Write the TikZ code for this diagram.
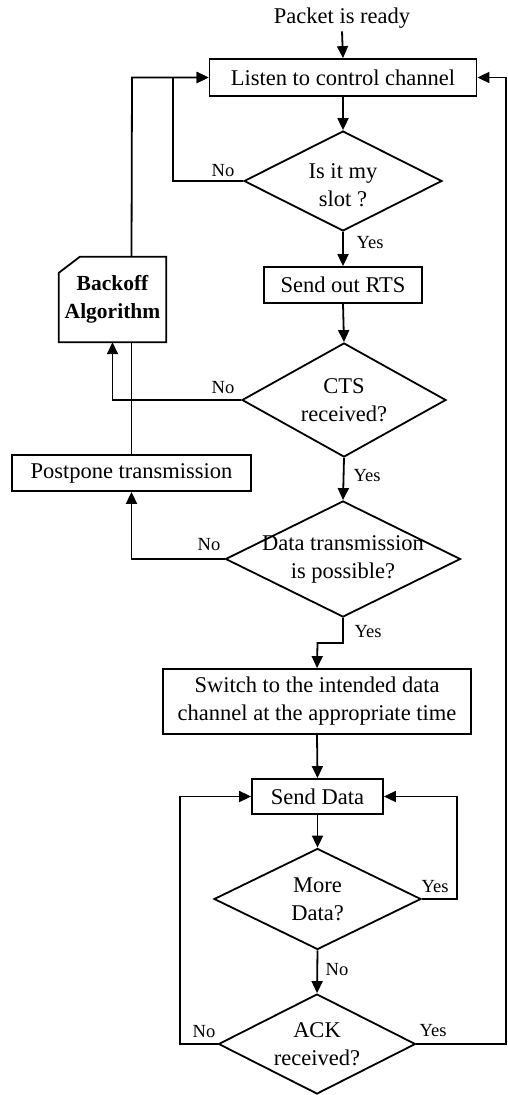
\documentclass[tikz,border=0pt]{standalone}
\usepackage{fontspec}
\setmainfont{Liberation Serif}
\usetikzlibrary{shapes.geometric,arrows.meta}
\begin{document}
\begin{tikzpicture}[x=1pt,y=-1pt,
  every node/.style={font=\fontsize{22.5pt}{28pt}\selectfont},
  box/.style={draw,line width=1.8pt,rectangle,inner sep=0pt,align=center},
  dia/.style={draw,line width=1.8pt,diamond,inner sep=0pt},
  txt/.style={align=center,inner sep=0pt},
  lbl/.style={font=\fontsize{18.5pt}{20pt}\selectfont,inner sep=0pt},
  conn/.style={line width=1.8pt},
  arr/.style={line width=1.8pt,-{Triangle[length=12pt,width=11pt]}}]
\useasboundingbox (0,0) rectangle (508,1095);
% nodes
\node[txt] (start) at (342,18) {Packet is ready};
\node[box,minimum width=267pt,minimum height=37pt] (listen) at (343,77.5) {Listen to control channel};
\node[dia,minimum width=198pt,minimum height=100pt] (d1) at (343,181) {};
\node[txt] (d1t) at (343,185) {Is it my\\slot ?};
\node[box,minimum width=158pt,minimum height=36pt] (rts) at (343,285) {Send out RTS};
\node[dia,minimum width=204pt,minimum height=114pt] (d2) at (344,400) {};
\node[txt] (d2t) at (344,400) {CTS\\received?};
\node[rectangle,inner sep=0pt,minimum width=107pt,minimum height=85pt,align=center,font=\fontsize{21.5pt}{28pt}\selectfont\bfseries] (backoff) at (112.5,299.5) {Backoff\\Algorithm};
\draw[line width=1.8pt,line join=miter] (backoff.south west) -- (backoff.south east) -- (backoff.north east) -- ([xshift=21pt]backoff.north west) -- ([yshift=-16pt]backoff.north west) -- cycle;
\node[box,minimum width=239pt,minimum height=36pt] (postpone) at (131.5,473) {Postpone transmission};
\node[dia,minimum width=235pt,minimum height=116pt] (d3) at (343,559) {};
\node[txt] (d3t) at (343,559) {Data transmission\\is possible?};
\node[box,minimum width=308pt,minimum height=65pt] (switch) at (317,701.5) {Switch to the intended data\\channel at the appropriate time};
\node[box,minimum width=131pt,minimum height=35pt] (send) at (317.5,796.5) {Send Data};
\node[dia,minimum width=207pt,minimum height=101pt] (d4) at (317.5,899) {};
\node[txt] (d4t) at (317.5,899) {More\\Data?};
\node[dia,minimum width=197pt,minimum height=100pt] (d5) at (317,1044) {};
\node[txt] (d5t) at (317,1044) {ACK\\received?};
% labels
\node[lbl] (l1) at (223,171) {No};
\node[lbl] (l2) at (370,243) {Yes};
\node[lbl] (l3) at (223,388) {No};
\node[lbl] (l4) at (367,476) {Yes};
\node[lbl] (l5) at (209,545) {No};
\node[lbl] (l6) at (368,632) {Yes};
\node[lbl] (l7) at (435,887) {Yes};
\node[lbl] (l8) at (337,970) {No};
\node[lbl] (l9) at (204,1032) {No};
\node[lbl] (l10) at (433,1031) {Yes};
% coordinates
\coordinate (c1) at (173,181);
\coordinate (c2) at (132,77.5);
\coordinate (c3) at (506,1044);
\coordinate (c4) at (180,1044);
\coordinate (c5) at (457,899);
\coordinate (c6) at (343,643);
\coordinate (c7) at (317.5,643);
% connectors
\draw[arr] ([yshift=-3pt]start.south) -- (listen.north);
\draw[arr] (listen.south) -- (d1.north);
\draw[arr] (d1.west) -- (c1) -- (c1 |- listen.west) -- (listen.west);
\draw[arr] (d1.south) -- (rts.north);
\draw[arr] (rts.south) -- (d2.north);
\draw[arr] (d2.west) -- (backoff.south |- d2.west) -- (backoff.south);
\draw[arr] (d2.south) -- (d3.north);
\draw[arr] (d3.west) -- (postpone.south |- d3.west) -- (postpone.south);
\draw[conn] (postpone.north) -- (postpone.north |- backoff.south);
\draw[arr] (postpone.north |- backoff.north) -- (c2) -- (listen.west);
\draw[arr] (d3.south) -- (c6) -- (c7) -- (switch.north);
\draw[arr] (switch.south) -- (send.north);
\draw[arr] (send.south) -- (d4.north);
\draw[arr] (d4.east) -- (c5) -- (c5 |- send.east) -- (send.east);
\draw[arr] (d4.south) -- (d5.north);
\draw[arr] (d5.west) -- (c4) -- (c4 |- send.west) -- (send.west);
\draw[arr] (d5.east) -- (c3) -- (c3 |- listen.east) -- (listen.east);
\end{tikzpicture}
\end{document}
